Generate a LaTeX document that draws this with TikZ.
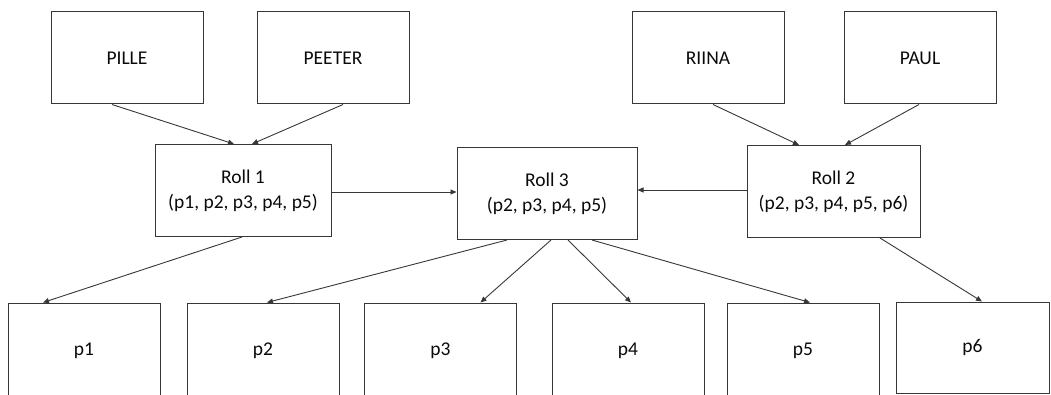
\documentclass[tikz,border=0pt]{standalone}
\usepackage{fontspec}
\setmainfont{Carlito}
\usepackage{xcolor}
\definecolor{boxline}{RGB}{55,55,55}
\definecolor{boxtext}{RGB}{10,10,10}
\usetikzlibrary{arrows.meta,positioning,calc}

\begin{document}
\begin{tikzpicture}[x=1pt, y=-1pt,
    box/.style={draw=boxline, line width=1pt, text=boxtext, align=center,
                font=\fontsize{19.5}{25}\selectfont, inner sep=0pt},
    person/.style={box, minimum width=152pt, minimum height=92pt},
    roll/.style={box, minimum height=92pt},
    part/.style={box, minimum width=152pt, minimum height=96pt},
    link/.style={-{Triangle[length=6pt,width=5pt]}, boxline, line width=0.9pt}]

\useasboundingbox (0,0) rectangle (1051,395);

% --- People ---
\node[person] (pille)  at (127,58) {PILLE};
\node[person] (peeter) at (333,58) {PEETER};
\node[person] (riina)  at (708,58) {RIINA};
\node[person] (paul)   at (920,58) {PAUL};

% --- Rolls ---
\node[roll, minimum width=176pt] (roll1) at (243,190.5) {Roll 1\\(p1, p2, p3, p4, p5)};
\node[roll, minimum width=180pt] (roll3) at (547,193.5) {Roll 3\\(p2, p3, p4, p5)};
\node[roll, minimum width=173pt] (roll2) at (833.5,191.5) {Roll 2\\(p2, p3, p4, p5, p6)};

% --- Parts ---
\node[part] (p1) at (84,351)    {p1};
\node[part] (p2) at (263,351)   {p2};
\node[part] (p3) at (440.5,351) {p3};
\node[part] (p4) at (628,351)   {p4};
\node[part] (p5) at (803,351)   {p5};
\node[part, minimum width=153pt, minimum height=91pt] (p6) at (972.5,347.5) {p6};

% People to rolls
\draw[link] ([xshift=-15pt]pille.south)  -- ([xshift=-9pt]roll1.north);
\draw[link] ([xshift=10pt]peeter.south)  -- ([xshift=9pt]roll1.north);
\draw[link] ([xshift=5pt]riina.south)    -- ([xshift=-34.5pt]roll2.north);
\draw[link] ([xshift=-1pt]paul.south)    -- ([xshift=11.5pt]roll2.north);

% Rolls to roll 3
\draw[link] ([yshift=-1.5pt]roll1.east) -- ([yshift=-1.5pt]roll1.east -| roll3.west);
\draw[link] ([yshift=1.5pt]roll2.west)  -- ([yshift=1.5pt]roll2.west -| roll3.east);

% Rolls to parts
\draw[link] ([xshift=-1pt]roll1.south)    -- ([xshift=-41pt]p1.north);
\draw[link] ([xshift=-40pt]roll3.south)   -- ([xshift=4pt]p2.north);
\draw[link] ([xshift=4pt]roll3.south)     -- ([xshift=40pt]p3.north);
\draw[link] ([xshift=21pt]roll3.south)    -- ([xshift=3pt]p4.north);
\draw[link] ([xshift=45pt]roll3.south)    -- ([xshift=7pt]p5.north);
\draw[link] ([xshift=46.5pt]roll2.south)  -- ([xshift=9.5pt]p6.north);

\end{tikzpicture}
\end{document}
